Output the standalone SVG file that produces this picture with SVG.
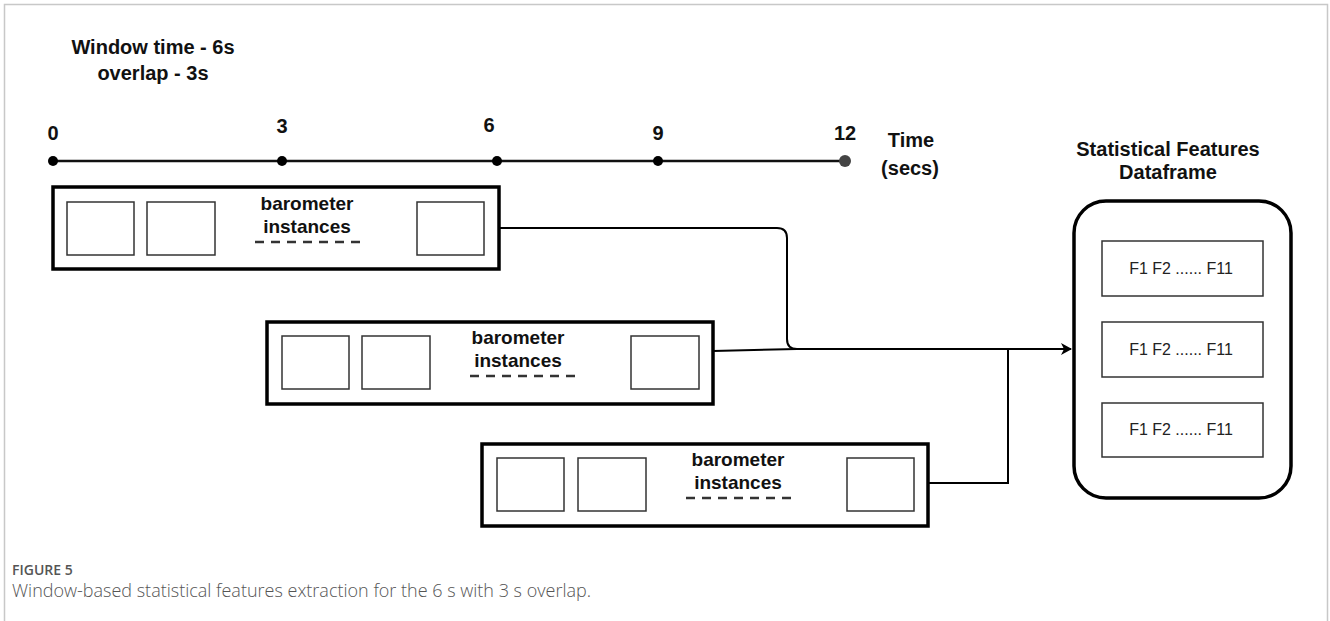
<svg xmlns="http://www.w3.org/2000/svg" width="1330" height="621" viewBox="0 0 1330 621">
<style>
.b{font-family:"Liberation Sans",Arial,sans-serif;font-weight:bold;font-size:20px;fill:#111;text-anchor:middle}
.bi{font-family:"Liberation Sans",Arial,sans-serif;font-weight:bold;font-size:19px;fill:#111;text-anchor:middle}
.f{font-family:"Liberation Sans",Arial,sans-serif;font-size:16px;fill:#222;text-anchor:middle}
.outer{fill:#fff;stroke:#000;stroke-width:3.5}
.sq{fill:#fff;stroke:#333;stroke-width:1.5}
.dash{stroke:#333;stroke-width:2.5;stroke-dasharray:9 7}
.conn{fill:none;stroke:#000;stroke-width:2}
.frame{fill:none;stroke:#c8c8c8;stroke-width:1.5}
</style>
<defs>
<marker id="arr" markerWidth="12" markerHeight="12" refX="10" refY="6" orient="auto" markerUnits="userSpaceOnUse">
<path d="M0,0 L11,6 L0,12 L3,6 Z" fill="#000"/>
</marker>
</defs>
<rect width="1330" height="621" fill="#fff"/>
<path class="frame" d="M4.5,621 V4.5 H1327.5 V621"/>

<g id="title">
<text class="b" x="153" y="54">Window time - 6s</text>
<text class="b" x="153" y="80">overlap - 3s</text>
</g>

<g id="timeline">
<line x1="53" y1="161" x2="845" y2="161" stroke="#111" stroke-width="2.5"/>
<circle cx="53" cy="161" r="5" fill="#000"/>
<circle cx="282" cy="161" r="5" fill="#000"/>
<circle cx="497" cy="161" r="5" fill="#000"/>
<circle cx="658" cy="161" r="5" fill="#000"/>
<circle cx="845" cy="161" r="6" fill="#444"/>
<text class="b" x="53" y="140">0</text>
<text class="b" x="282" y="133">3</text>
<text class="b" x="489" y="132">6</text>
<text class="b" x="658" y="140">9</text>
<text class="b" x="845" y="140">12</text>
<text class="b" x="911" y="147">Time</text>
<text class="b" x="910" y="175">(secs)</text>
</g>

<g id="window1" transform="translate(53,187)">
<rect class="outer" x="0" y="0" width="446" height="82"/>
<rect class="sq" x="14" y="15" width="67" height="53"/>
<rect class="sq" x="94" y="15" width="68" height="53"/>
<rect class="sq" x="364" y="15" width="67" height="53"/>
<text class="bi" x="254" y="23">barometer</text>
<text class="bi" x="254" y="46">instances</text>
<line class="dash" x1="202" y1="55" x2="308" y2="55"/>
</g>

<g id="window2" transform="translate(267,322)">
<rect class="outer" x="0" y="0" width="446" height="82"/>
<rect class="sq" x="15" y="14" width="67" height="53"/>
<rect class="sq" x="95" y="14" width="68" height="53"/>
<rect class="sq" x="364" y="14" width="68" height="53"/>
<text class="bi" x="251" y="22">barometer</text>
<text class="bi" x="251" y="45">instances</text>
<line class="dash" x1="203" y1="54" x2="308" y2="54"/>
</g>

<g id="window3" transform="translate(482,444)">
<rect class="outer" x="0" y="0" width="446" height="82"/>
<rect class="sq" x="15" y="14" width="67" height="53"/>
<rect class="sq" x="96" y="14" width="68" height="53"/>
<rect class="sq" x="365" y="14" width="67" height="53"/>
<text class="bi" x="256" y="22">barometer</text>
<text class="bi" x="256" y="45">instances</text>
<line class="dash" x1="204" y1="54" x2="310" y2="54"/>
</g>

<g id="dataframe">
<text class="b" x="1168" y="156">Statistical Features</text>
<text class="b" x="1168" y="179">Dataframe</text>
<rect class="outer" x="1074" y="201" width="217" height="297" rx="32" ry="32"/>
<rect class="sq" x="1102" y="241" width="161" height="55"/>
<rect class="sq" x="1102" y="322" width="161" height="55"/>
<rect class="sq" x="1102" y="403" width="161" height="54"/>
<text class="f" x="1181" y="274">F1 F2 ...... F11</text>
<text class="f" x="1181" y="355">F1 F2 ...... F11</text>
<text class="f" x="1181" y="435">F1 F2 ...... F11</text>
</g>

<g id="connectors">
<path class="conn" d="M499,228 H777 Q787,228 787,238 V339 Q787,349 797,349 H1071" marker-end="url(#arr)"/>
<path class="conn" d="M713,351 L797,349"/>
<path class="conn" d="M928,483 H1008 V349"/>
</g>

<g id="caption">
<text x="12" y="575" font-family="'Open Sans',sans-serif" font-size="14" font-weight="600" fill="#555">FIGURE 5</text>
<text x="12" y="597" font-family="'Open Sans',sans-serif" font-size="18" font-weight="300" fill="#555">Window-based statistical features extraction for the 6 s with 3 s overlap.</text>
</g>
</svg>
